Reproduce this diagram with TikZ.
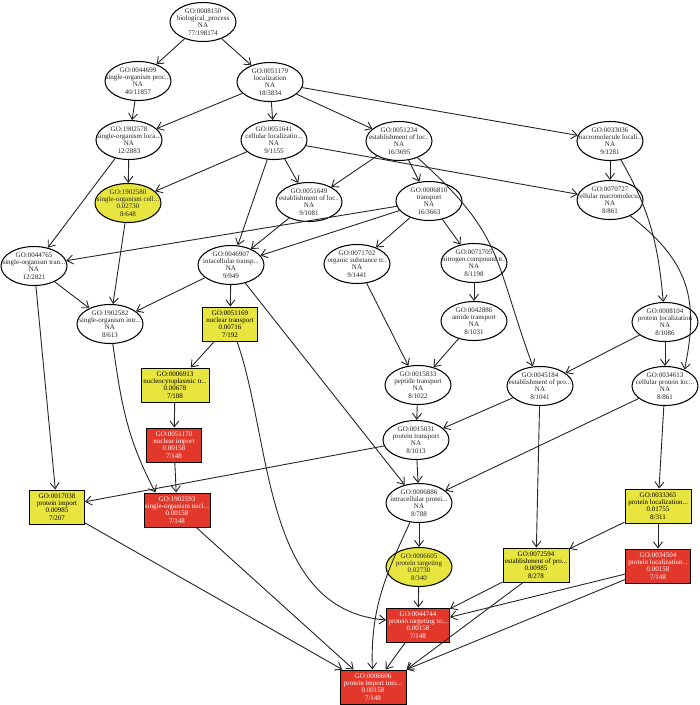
\documentclass[tikz,border=0pt]{standalone}
\usepackage{fontspec}
\setmainfont{Liberation Serif}
\usetikzlibrary{arrows.meta,shapes.geometric}
\definecolor{goyel}{RGB}{232,230,62}
\definecolor{gored}{RGB}{226,56,44}
\tikzset{
  ell/.style={draw, ellipse, minimum width=66pt, minimum height=39pt, inner sep=0pt, line width=1.05pt, fill=white},
  txt/.style={align=center, font=\fontsize{7}{7.3}\selectfont, inner sep=0pt, text=black!85},
  gobox/.style={draw, rectangle, minimum height=34pt, inner sep=0pt, line width=1pt, align=center, font=\fontsize{7}{7.3}\selectfont},
  yel/.style={fill=goyel},
  redb/.style={fill=gored, text=white},
  yell/.style={fill=goyel},
  edge/.style={-{Straight Barb[length=6pt,width=9pt]}, line width=0.9pt, black!85}
}
\newcommand{\goE}[4]{\node[ell,#3] (#1) at (#2) {}; \node[txt] (#1t) at (#1.center) {#4};}
\begin{document}
\begin{tikzpicture}[x=1pt,y=-1pt]
\useasboundingbox[fill=white] (0,0) rectangle (700,705);
% ellipses
\goE{n1}{203,22}{}{GO:0008150\\biological\_process\\NA\\77/198174}
\goE{n2}{138,81}{}{GO:0044699\\single-organism proc...\\NA\\40/11857}
\goE{n3}{270,82}{}{GO:0051179\\localization\\NA\\18/3834}
\goE{n4}{129,140}{}{GO:1902578\\single-organism loca...\\NA\\12/2883}
\goE{n5}{274,140}{}{GO:0051641\\cellular localizatio...\\NA\\9/1155}
\goE{n6}{399,141}{}{GO:0051234\\establishment of loc..\\NA\\16/3695}
\goE{n7}{610,141}{}{GO:0033036\\macromolecule locali...\\NA\\9/1281}
\goE{n8}{128,203}{yell}{GO:1902580\\single-organism cell...\\0.02730\\8/648}
\goE{n9}{309,202}{}{GO:0051649\\establishment of loc..\\NA\\9/1081}
\goE{n10}{429,201}{}{GO:0006810\\transport\\NA\\16/3663}
\goE{n11}{610,200}{}{GO:0070727\\cellular macromolecu...\\NA\\8/861}
\goE{n12}{34,266}{}{GO:0044765\\single-organism tran...\\NA\\12/2821}
\goE{n13}{231,265}{}{GO:0046907\\intacellular transp...\\NA\\9/949}
\goE{n14}{357,264}{}{GO:0071702\\organic substance tr..\\NA\\9/1441}
\goE{n15}{474,263}{}{GO:0071705\\hitrogen compound tr..\\NA\\8/1198}
\goE{n16}{110,324}{}{GO:1902582\\single-organism intr...\\NA\\8/613}
\goE{n18}{474,321}{}{GO:0042886\\amide transport\\NA\\8/1031}
\goE{n19}{665,322}{}{GO:0008104\\protein localization\\NA\\8/1086}
\goE{n21}{418,385}{}{GO:0015833\\peptide transport\\NA\\8/1022}
\goE{n22}{540,386}{}{GO:0045184\\establishment of pro...\\NA\\8/1041}
\goE{n23}{665,386}{}{GO:0034613\\cellular protein loc...\\NA\\8/861}
\goE{n25}{416,440}{}{GO:0015031\\protein transport\\NA\\8/1013}
\goE{n28}{419,503}{}{GO:0006886\\intracellular protei...\\NA\\8/788}
\goE{n30}{419,567}{yell}{GO:0006605\\protein targeting\\0.02730\\8/340}
% boxes
\node[gobox,yel,minimum width=55pt] (n17) at (230,324) {GO:0051169\\nuclear transport\\0.00716\\7/192};
\node[gobox,yel,minimum width=68pt] (n20) at (175,385) {GO:0006913\\nucleocytoplasmic tr...\\0.00678\\7/188};
\node[gobox,redb,minimum width=55pt] (n24) at (174,445) {GO:0051170\\nuclear import\\0.00158\\7/148};
\node[gobox,yel,minimum width=55pt] (n26) at (57,507) {GO:0017038\\protein import\\0.00985\\7/207};
\node[gobox,redb,minimum width=66pt] (n27) at (177,510) {GO:1902593\\single-organism nucl...\\0.00158\\7/148};
\node[gobox,yel,minimum width=66pt] (n29) at (658,506) {GO:0033365\\protein localization...\\0.01755\\8/311};
\node[gobox,yel,minimum width=66pt] (n31) at (536,565) {GO:0072594\\establishment of pro...\\0.00985\\8/278};
\node[gobox,redb,minimum width=65pt] (n32) at (658,566) {GO:0034504\\protein localization...\\0.00158\\7/148};
\node[gobox,redb,minimum width=63pt] (n33) at (418,625) {GO:0044744\\protein targeting to...\\0.00158\\7/148};
\node[gobox,redb,minimum width=66pt] (n34) at (373,687) {GO:0006606\\protein import into...\\0.00158\\7/148};
% straight edges
\foreach \a/\b in {n1/n2,n1/n3,n2/n4,n3/n4,n3/n5,n3/n6,n3/n7,n4/n8,n4/n12,n5/n8,n5/n9,n5/n13,n5/n11,
  n6/n9,n6/n10,n7/n11,n8/n16,n9/n13,n10/n12,n10/n13,n10/n14,n10/n15,n12/n16,n12/n26,n13/n16,n13/n17,
  n13/n28,n14/n21,n15/n18,n18/n21,n17/n20,n20/n24,n24/n27,n21/n25,n19/n22,n19/n23,n22/n25,n22/n31,
  n23/n28,n23/n29,n25/n26,n25/n28,n28/n30,n30/n33,n29/n31,n29/n32,n31/n33,n32/n33,n33/n34,n26/n34,n27/n34}
  {\draw[edge] (\a) -- (\b);}
\draw[edge] ([xshift=-13pt]n31.south) -- (n34.north east);
\draw[edge] (n32) -- (n34.north east);
% curved edges
\draw[edge] (n6) to[out=-42,in=110,looseness=1.25] (n22);
\draw[edge] (n7) to[out=-60,in=95] (n19);
\draw[edge] (n11) to[out=-38,in=78,looseness=1.15] (n23.40);
\draw[edge] (n16) to[out=-82,in=118] ([xshift=12pt]n27.north west);
\draw[edge] ([xshift=7pt]n17.south) .. controls (272,440) and (262,610) .. ([yshift=5pt]n33.west);
\draw[edge] (n28) to[out=-115,in=92] (n34);
\end{tikzpicture}
\end{document}
